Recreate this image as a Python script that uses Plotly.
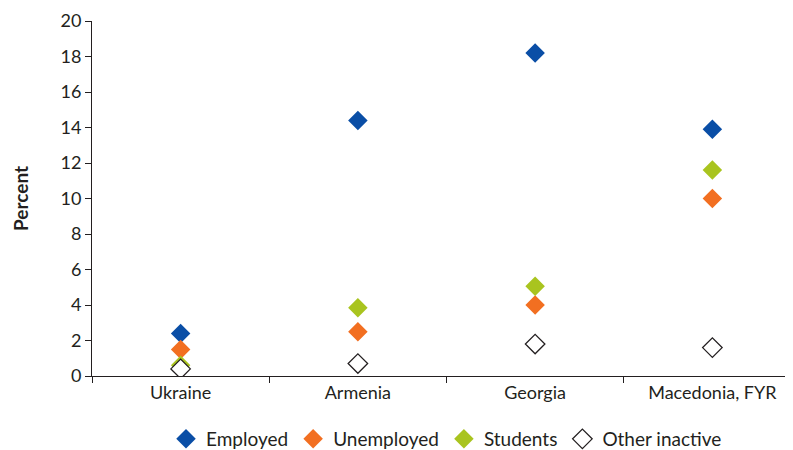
import plotly.graph_objects as go

countries = ["Ukraine", "Armenia", "Georgia", "Macedonia, FYR"]
employed = [2.4, 14.4, 18.2, 13.9]
unemployed = [1.5, 2.5, 4.0, 10.0]
students = [0.6, 3.85, 5.05, 11.6]
other_inactive = [0.4, 0.7, 1.8, 1.6]

series = [
    ("Employed", employed, "#0a4ea6", "#0a4ea6"),
    ("Unemployed", unemployed, "#f26f21", "#f26f21"),
    ("Students", students, "#a9c41f", "#a9c41f"),
    ("Other inactive", other_inactive, "#ffffff", "#231f20"),
]

fig = go.Figure()
for name, vals, fill, line in series:
    fig.add_trace(go.Scatter(
        x=countries, y=vals, mode="markers", name=name,
        marker=dict(symbol="diamond", size=15, color=fill,
                    line=dict(color=line, width=1.3 if fill == "#ffffff" else 0)),
    ))

fig.update_layout(
    width=793, height=450,
    margin=dict(l=84, r=0, t=13, b=82),
    paper_bgcolor="white", plot_bgcolor="white",
    font=dict(family="Lato, Noto Sans, sans-serif", size=17, color="#231f20"),
    showlegend=True,
    legend=dict(orientation="h", x=0.5, xanchor="center", y=-0.125, yanchor="top",
                font=dict(size=19)),
)
fig.update_xaxes(
    type="category", range=[-0.5, 3.5], automargin=False,
    showline=True, linecolor="#231f20", linewidth=1,
    ticks="outside", tickson="boundaries", ticklen=6, tickcolor="#231f20",
    showgrid=False, zeroline=False, tickfont=dict(size=18),
)
fig.update_yaxes(
    range=[0, 20], dtick=2, automargin=False,
    showline=True, linecolor="#231f20", linewidth=1,
    ticks="outside", ticklen=6, tickcolor="#231f20", showgrid=False, zeroline=False,
    title=dict(text="<b>Percent</b>", font=dict(size=19), standoff=26),
    tickfont=dict(size=18),
)
fig.write_html("out.html")
